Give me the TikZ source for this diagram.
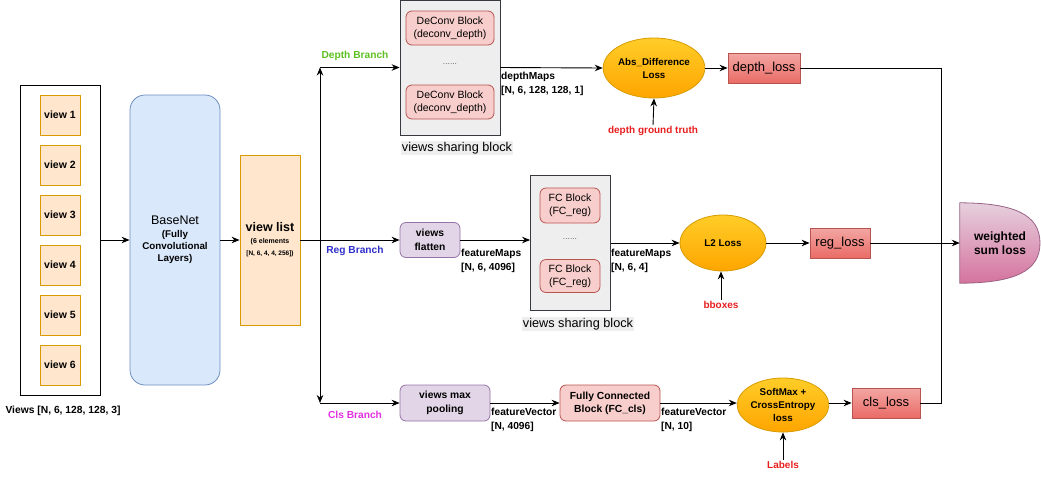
\documentclass[tikz,border=0pt]{standalone}
\usepackage{fontspec}
\setmainfont{Liberation Sans}
\usetikzlibrary{arrows.meta,shapes.geometric}
\definecolor{orF}{HTML}{FFE6CC}\definecolor{orD}{HTML}{D79B00}
\definecolor{blF}{HTML}{DAE8FC}\definecolor{blD}{HTML}{6C8EBF}
\definecolor{grF}{HTML}{EEEEEE}\definecolor{grD}{HTML}{36393D}
\definecolor{rdF}{HTML}{F8CECC}\definecolor{rdD}{HTML}{B85450}\definecolor{rdB}{HTML}{EA6B66}
\definecolor{puF}{HTML}{E1D5E7}\definecolor{puD}{HTML}{9673A6}
\definecolor{elT}{HTML}{FFCD28}\definecolor{elB}{HTML}{FFA500}
\definecolor{wsT}{HTML}{E6D0DE}\definecolor{wsB}{HTML}{D5739D}\definecolor{wsD}{HTML}{996185}
\definecolor{brG}{HTML}{5CC020}\definecolor{brB}{HTML}{2E2ECC}\definecolor{brM}{HTML}{E030E0}
\definecolor{lbR}{HTML}{E81E1E}
\tikzset{
  bx/.style={draw, inner sep=0pt, align=center, line width=0.8pt},
  viewbox/.style={bx, fill=orF, draw=orD, minimum width=40, minimum height=40, font=\fontsize{10.5}{12}\selectfont\bfseries},
  blk/.style={bx, fill=grF, draw=grD},
  redblk/.style={bx, fill=rdF, draw=rdD, rounded corners=6pt, font=\fontsize{10.5}{13}\selectfont},
  purblk/.style={bx, fill=puF, draw=puD, rounded corners=6pt, font=\fontsize{10.3}{13.5}\selectfont\bfseries},
  lossel/.style={ellipse, draw=orD, top color=elT, bottom color=elB, inner sep=0pt, align=center, line width=0.8pt, font=\fontsize{9.8}{13}\selectfont\bfseries},
  lossbox/.style={bx, draw=rdD, top color=rdF!60!rdB, bottom color=rdB, font=\fontsize{13}{15}\selectfont},
  lab/.style={inner sep=1pt, align=left, font=\fontsize{10.2}{14}\selectfont\bfseries},
  redlab/.style={inner sep=1pt, text=lbR, font=\fontsize{10}{11}\selectfont\bfseries},
  dots/.style={inner sep=0pt, text=black!60, font=\fontsize{8.5}{10}\selectfont},
  sharelab/.style={fill=grF, inner sep=1pt, font=\fontsize{12.7}{14}\selectfont},
  arr/.style={line width=0.9pt, -{Stealth[length=8pt,width=6.5pt]}},
  ln/.style={line width=0.9pt},
}
\begin{document}
\begin{tikzpicture}[x=1pt,y=-1pt]
\useasboundingbox (0,0) rectangle (1041,477);
% input views
\node[bx, draw=black, minimum width=80, minimum height=310] (views) at (60,240) {};
\foreach \i in {1,...,6}{
  \node[viewbox] (v\i) at (60,{115+50*(\i-1)}) {view \i};
}
\node[lab, font=\fontsize{10.3}{12}\selectfont\bfseries] (viewslab) at (63,411) {Views [N, 6, 128, 128, 3]};
% BaseNet
\node[bx, fill=blF, draw=blD, rounded corners=15pt, minimum width=90, minimum height=290] (base) at (175,240)
  {{\fontsize{12.5}{14}\selectfont BaseNet}\\[1pt]{\fontsize{9.8}{14}\selectfont\bfseries (Fully}\\{\fontsize{9.8}{14}\selectfont\bfseries Convolutional}\\{\fontsize{9.8}{14}\selectfont\bfseries Layers)}};
% view list
\node[bx, fill=orF, draw=orD, minimum width=60, minimum height=170] (vlist) at (270,240)
  {{\fontsize{12.5}{14}\selectfont\bfseries view list}\\{\fontsize{7}{12}\selectfont\bfseries (6 elements}\\{\fontsize{6.5}{11}\selectfont\bfseries [N, 6, 4, 4, 256])}};
\draw[arr] (views.east) -- (base.west);
\draw[arr] (base.east) -- (vlist.west);
% branching
\coordinate (jc) at (320,240);
\coordinate (jt) at (320,67.5);
\coordinate (jb) at (320,403);
% depth branch
\node[blk, minimum width=100, minimum height=135] (dblk) at (450,67.5) {};
\node[redblk, minimum width=88, minimum height=34] (dc1) at (450,28) {DeConv Block\\(deconv\_depth)};
\node[redblk, minimum width=88, minimum height=34] (dc2) at (450,102) {DeConv Block\\(deconv\_depth)};
\node[dots] (dd1) at (450,64) {......};
\node[sharelab] (sl1) at (457,148) {views sharing block};
\node[lossel, minimum width=84, minimum height=60] (abs) at (654,68) {Abs\_Difference\\Loss};
\node[lossbox, minimum width=72, minimum height=30] (dloss) at (764,68) {depth\_loss};
\node[redlab] (gt) at (653,131) {depth ground truth};
\node[lab, text=brG] (dbr) at (355,56) {Depth Branch};
\node[lab, anchor=north west] (dml) at (500,71) {depthMaps\\{[N, 6, 128, 128, 1]}};
% reg branch
\node[purblk, minimum width=60, minimum height=35] (flat) at (430,240) {views\\flatten};
\node[blk, minimum width=80, minimum height=135] (fblk) at (570.5,242.5) {};
\node[redblk, minimum width=60, minimum height=35] (fc1) at (570,205.5) {FC Block\\(FC\_reg)};
\node[redblk, minimum width=60, minimum height=33] (fc2) at (570,276) {FC Block\\(FC\_reg)};
\node[dots] (dd2) at (570,239) {......};
\node[sharelab] (sl2) at (578,324) {views sharing block};
\node[lossel, minimum width=86, minimum height=56] (l2) at (723,243) {L2 Loss};
\node[lossbox, minimum width=60, minimum height=30] (rloss) at (840,243) {reg\_loss};
\node[redlab] (bb) at (721,305) {bboxes};
\node[lab, text=brB] (rbr) at (355,251) {Reg Branch};
\node[lab, anchor=north west] (fml1) at (460,248) {featureMaps\\{[N, 6, 4096]}};
\node[lab, anchor=north west] (fml2) at (610,248) {featureMaps\\{[N, 6, 4]}};
% cls branch
\node[purblk, minimum width=90, minimum height=36] (mpool) at (445,403) {views max\\pooling};
\node[redblk, font=\fontsize{10.3}{13}\selectfont\bfseries, minimum width=100, minimum height=36] (fccls) at (610,403) {Fully Connected\\Block (FC\_cls)};
\node[lossel, minimum width=86, minimum height=54] (sm) at (783,405) {SoftMax +\\CrossEntropy\\loss};
\node[lossbox, minimum width=68, minimum height=30] (closs) at (886,403) {cls\_loss};
\node[redlab] (lbl) at (783,465) {Labels};
\node[lab, text=brM] (cbr) at (355,415) {Cls Branch};
\node[lab, anchor=north west] (fvl1) at (490,407) {featureVector\\{[N, 4096]}};
\node[lab, anchor=north west] (fvl2) at (660,407) {featureVector\\{[N, 10]}};
% weighted sum loss
\node[minimum width=80, minimum height=80, inner sep=0pt] (wsum) at (1000,243) {};
\path[draw=wsD, line width=0.8pt, top color=wsT, bottom color=wsB]
  (wsum.north west) .. controls (1015,203) and (1040,215) .. (1040,243)
  .. controls (1040,271) and (1015,283) .. (wsum.south west) -- cycle;
\node[align=center, inner sep=0pt, font=\fontsize{12}{14}\selectfont\bfseries] (wtext) at (wsum) {weighted\\sum loss};
\coordinate (wj) at (941,243);
% connectors
\draw[ln] (vlist.east) -- (jc);
\draw[arr] (jc) -- (jt);
\draw[arr] (jt) -- (dblk.west);
\draw[arr] (vlist.east) -- (flat.west);
\draw[arr] (jc) -- (jb);
\draw[arr] (jb) -- (mpool.west);
\draw[arr] (dblk.east) -- (abs.west);
\draw[arr] (abs.east) -- (dloss.west);
\draw[arr] (gt.north) -- (abs.south);
\draw[arr] (flat.east) -- (flat.east -| fblk.west);
\draw[arr] (fblk.east |- l2.west) -- (l2.west);
\draw[arr] (l2.east) -- (rloss.west);
\draw[arr] (bb.north) -- (bb.north |- l2.south);
\draw[arr] (mpool.east) -- (fccls.west);
\draw[arr] (fccls.east) -- (fccls.east -| sm.west);
\draw[arr] (sm.east |- closs.west) -- (closs.west);
\draw[arr] (lbl.north) -- (sm.south);
\draw[ln] (dloss.east) -| (wj);
\draw[ln] (closs.east) -| (wj);
\draw[arr] (rloss.east) -- (wsum.west);
\end{tikzpicture}
\end{document}
